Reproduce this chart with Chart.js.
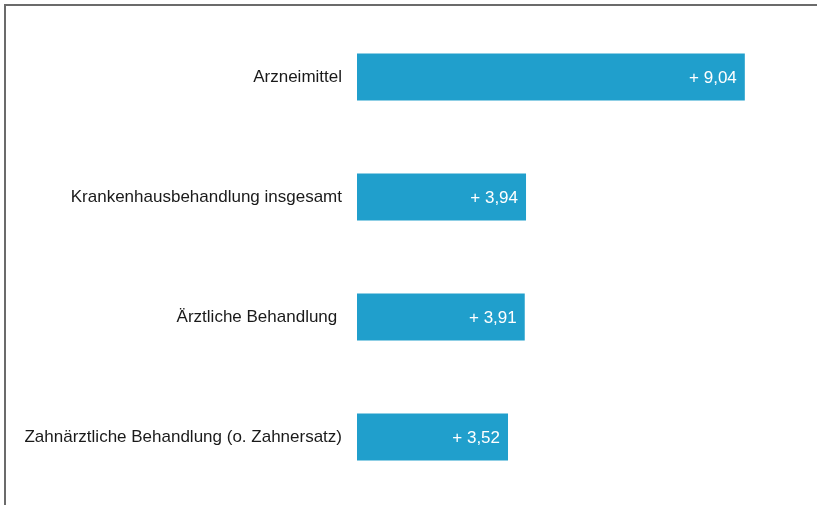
<!DOCTYPE html>
<html>
<head>
<meta charset="utf-8">
<script src="https://cdn.jsdelivr.net/npm/chart.js@4/dist/chart.umd.min.js"></script>
<style>
  html, body { margin: 0; padding: 0; background: #fff; }
  #wrap { position: relative; width: 817px; height: 505px; }
  #frame { position: absolute; left: 4px; top: 4px; right: 0; bottom: 0;
           border-left: 2px solid #6b6b6b; border-top: 2px solid #6b6b6b; pointer-events: none; }
  canvas { position: absolute; left: 0; top: 0; }
</style>
</head>
<body>
<div id="wrap">
  <canvas id="c" width="817" height="505"></canvas>
  <div id="frame"></div>
</div>
<script>
const categories = [
  "Arzneimittel",
  "Krankenhausbehandlung insgesamt",
  "Ärztliche Behandlung ",
  "Zahnärztliche Behandlung (o. Zahnersatz)"
];
const values = [9.04, 3.94, 3.91, 3.52];

const FONT = 'Liberation Sans, Arial, Helvetica, sans-serif';

const valueLabels = {
  id: 'valueLabels',
  afterDatasetsDraw(chart) {
    const ctx = chart.ctx;
    const meta = chart.getDatasetMeta(0);
    ctx.save();
    ctx.font = '17px ' + FONT;
    ctx.fillStyle = '#ffffff';
    ctx.textAlign = 'right';
    ctx.textBaseline = 'middle';
    meta.data.forEach((bar, i) => {
      const txt = '+ ' + values[i].toFixed(2).replace('.', ',');
      ctx.fillText(txt, bar.x - 8, bar.y + 1);
    });
    ctx.restore();
  }
};

new Chart(document.getElementById('c'), {
  type: 'bar',
  data: {
    labels: categories,
    datasets: [{
      data: values,
      backgroundColor: '#209fcc',
      borderWidth: 0,
      barPercentage: 0.78,
      categoryPercentage: 0.5
    }]
  },
  options: {
    indexAxis: 'y',
    responsive: false,
    animation: false,
    devicePixelRatio: 1,
    layout: { padding: { left: 0, right: 31, top: 17, bottom: 8 } },
    plugins: { legend: { display: false }, tooltip: { enabled: false } },
    scales: {
      x: { display: false, min: 0, max: 10 },
      y: {
        grid: { display: false, drawTicks: false },
        border: { display: false },
        ticks: { color: '#1a1a1a', font: { family: FONT, size: 17 }, padding: 15 },
        afterFit(scale) {
          scale.width = 357;
          scale.paddingTop = 0;
          scale.paddingBottom = 0;
        }
      }
    }
  },
  plugins: [valueLabels]
});
</script>
</body>
</html>
